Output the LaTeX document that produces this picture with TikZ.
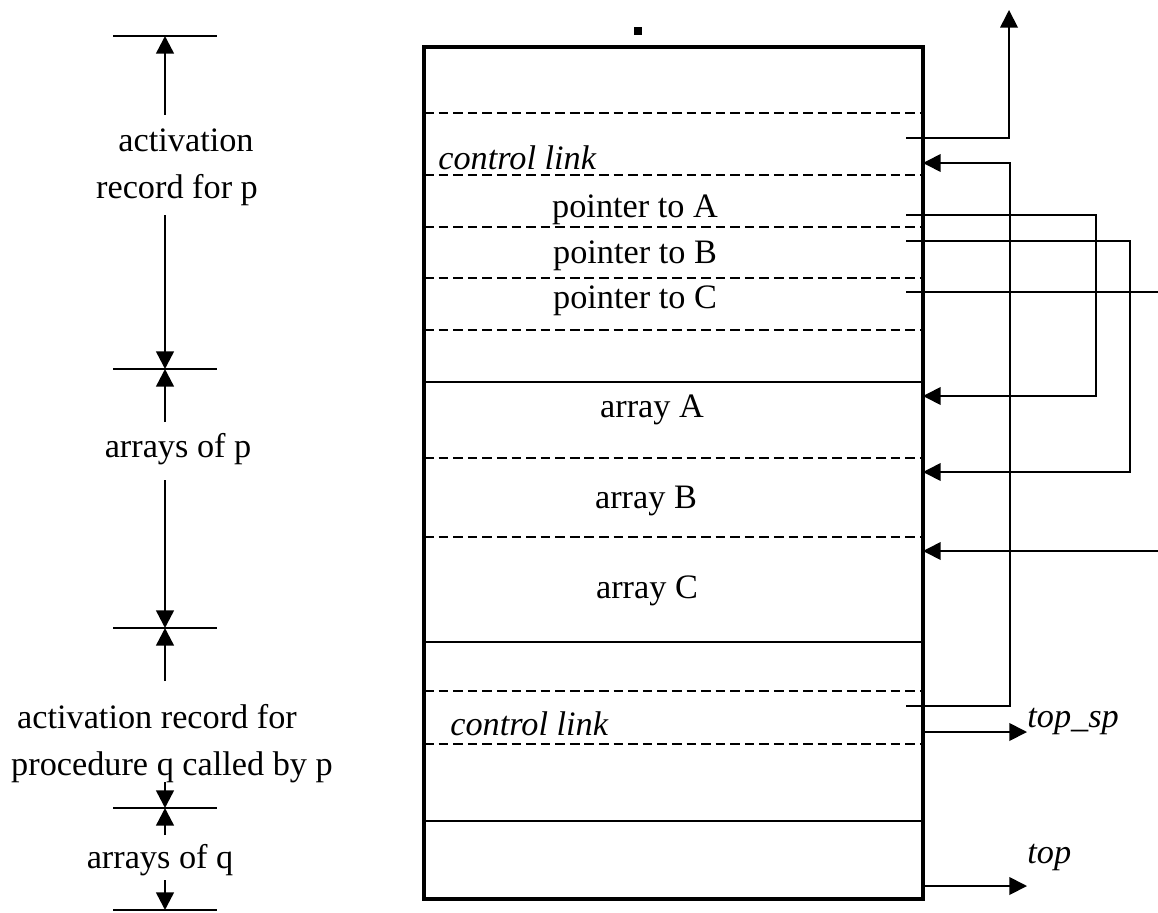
\documentclass[tikz,border=0pt]{standalone}
\usepackage{fontspec}
\setmainfont{Liberation Serif}
\usetikzlibrary{arrows.meta,positioning,calc}

\begin{document}
\begin{tikzpicture}[x=0.02cm, y=-0.02cm,
  txt/.style={font=\fontsize{19.5}{26}\selectfont, inner sep=0pt, anchor=base},
  itx/.style={txt, font=\fontsize{19.5}{26}\selectfont\itshape},
  stackbox/.style={line width=2.2pt},
  fullline/.style={line width=1.4pt},
  dsh/.style={line width=1.4pt, dash pattern=on 5.5pt off 2.8pt},
  dimtick/.style={line width=0.7pt},
  dimarrow/.style={line width=1.4pt, -{Triangle[length=10pt,width=10pt]}},
  conn/.style={line width=1pt},
  ptr/.style={conn, -{Triangle[length=10pt,width=10pt]}}
]
  \useasboundingbox (0,0) rectangle (1158,912);

  % the stack
  \draw[stackbox] (424,47) rectangle (923,899);
  \foreach \yy in {382,642,821}
    \draw[fullline] (424,\yy) -- (923,\yy);
  \foreach \yy in {113,175,227,278,330,458,537,691,744}
    \draw[dsh] (424,\yy) -- (923,\yy);
  \node[fill, inner sep=0pt, minimum size=4pt] (dot) at (638,31) {};

  % fields
  \node[itx, anchor=base west] (clp) at (438,170) {control link};
  \node[txt] (ptA) at (635,217) {pointer to A};
  \node[txt] (ptB) at (635,263) {pointer to B};
  \node[txt] (ptC) at (635,308) {pointer to C};
  \node[txt] (arA) at (652,417) {array A};
  \node[txt] (arB) at (646,508) {array B};
  \node[txt] (arC) at (647,598) {array C};
  \node[itx, anchor=base west] (clq) at (450,735) {control link};

  % extents on the left
  \foreach \nm/\yy in {t1/36,t2/369,t3/628,t4/808,t5/910}{
    \coordinate (\nm) at (165,\yy);
    \draw[dimtick] (113,\yy) -- (217,\yy);
  }
  \node[txt] (actp1) at (186,152) {activation};
  \node[txt] (actp2) at (177,198) {record for p};
  \node[txt] (arrp) at (178,457) {arrays of p};
  \node[txt] (actq1) at (157,728) {activation record for};
  \node[txt] (actq2) at (172,775) {procedure q called by p};
  \node[txt] (arrq) at (160,868) {arrays of q};
  \coordinate (d1u) at (165,115); \coordinate (d1d) at (165,215);
  \coordinate (d2u) at (165,422); \coordinate (d2d) at (165,480);
  \coordinate (d3u) at (165,681); \coordinate (d3d) at (165,782);
  \coordinate (d4u) at (165,835); \coordinate (d4d) at (165,880);
  \draw[dimarrow] (d1u) -- (t1); \draw[dimarrow] (d1d) -- (t2);
  \draw[dimarrow] (d2u) -- (t2); \draw[dimarrow] (d2d) -- (t3);
  \draw[dimarrow] (d3u) -- (t3); \draw[dimarrow] (d3d) -- (t4);
  \draw[dimarrow] (d4u) -- (t4); \draw[dimarrow] (d4d) -- (t5);

  % links on the right
  \coordinate (alS) at (906,138); \coordinate (alE) at (1009,10);
  \draw[ptr] (alS) -| (alE);
  \coordinate (cqS) at (906,706); \coordinate (cpE) at (923,163);
  \coordinate (xc) at (1010,0);
  \draw[ptr] (cqS) -| (xc |- cpE) -- (cpE);
  \coordinate (paS) at (906,215); \coordinate (aA) at (923,396);
  \coordinate (xa) at (1096,0);
  \draw[ptr] (paS) -| (xa |- aA) -- (aA);
  \coordinate (pbS) at (906,241); \coordinate (aB) at (923,472);
  \coordinate (xb) at (1130,0);
  \draw[ptr] (pbS) -| (xb |- aB) -- (aB);
  \coordinate (pcS) at (906,292); \coordinate (pcE) at (1158,292);
  \draw[conn] (pcS) -- (pcE);
  \coordinate (acS) at (1158,551); \coordinate (aC) at (923,551);
  \draw[ptr] (acS) -- (aC);

  % top_sp and top
  \node[itx, anchor=base west] (lblsp) at (1027,727) {top\_sp};
  \node[itx, anchor=base west] (lbltop) at (1027,863) {top};
  \coordinate (tsp) at (923,732); \coordinate (tp) at (923,886);
  \draw[ptr] (tsp) -- (lblsp.west |- tsp);
  \draw[ptr] (tp) -- (lbltop.west |- tp);
\end{tikzpicture}
\end{document}
